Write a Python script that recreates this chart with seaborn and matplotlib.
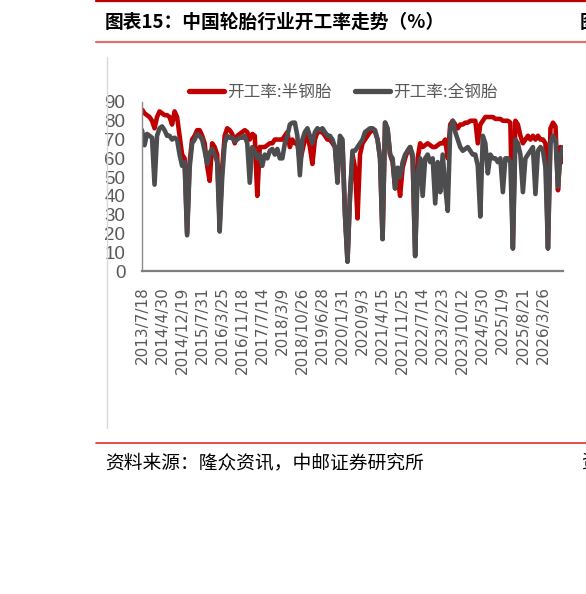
import numpy as np
import pandas as pd
import matplotlib
matplotlib.use("Agg")
import matplotlib.pyplot as plt
import seaborn as sns
from matplotlib.lines import Line2D

# -- data (one point every ~4.5 weeks) ------------------------------------------
tick_labels = [
    "2013/7/18", "2014/4/30", "2014/12/19", "2015/7/31", "2016/3/25",
    "2016/11/18", "2017/7/14", "2018/3/9", "2018/10/26", "2019/6/28",
    "2020/1/31", "2020/9/3", "2021/4/15", "2021/11/25", "2022/7/14",
    "2023/2/23", "2023/10/12", "2024/5/30", "2025/1/9", "2025/8/21",
    "2026/3/26",
]
points_per_label = 8

semi_steel = [
    86, 84, 83, 82, 80, 76, 82, 85,
    84, 83, 83, 82, 78, 85, 82, 72,
    62, 60, 20, 58, 70, 72, 75, 75,
    72, 68, 56, 48, 68, 66, 62, 25,
    55, 72, 76, 75, 73, 68, 72, 73,
    74, 75, 74, 70, 73, 72, 40, 66,
    66, 66, 67, 68, 68, 70, 70, 70,
    70, 72, 74, 66, 70, 68, 68, 58,
    64, 70, 72, 66, 57, 70, 74, 74,
    74, 72, 70, 70, 68, 66, 50, 70,
    68, 30, 5, 40, 62, 55, 28, 62,
    68, 70, 72, 74, 75, 74, 70, 60,
    17, 79, 75, 62, 58, 44, 50, 40,
    55, 60, 64, 66, 60, 8, 60, 68,
    66, 67, 68, 67, 66, 66, 67, 68,
    68, 70, 60, 78, 80, 78, 76, 78,
    78, 79, 79, 80, 80, 80, 68, 78,
    80, 82, 82, 82, 82, 81, 81, 81,
    80, 80, 80, 79, 12, 80, 78, 72,
    68, 70, 72, 70, 72, 70, 72, 70,
    70, 68, 12, 76, 79, 77, 43, 66, 58,
]

all_steel = [
    75, 67, 73, 72, 71, 46, 72, 76,
    77, 75, 72, 72, 70, 71, 70, 62,
    56, 58, 19, 55, 68, 70, 73, 72,
    70, 64, 57, 63, 65, 62, 58, 21,
    50, 68, 72, 71, 71, 69, 70, 71,
    71, 72, 68, 47, 66, 64, 60, 62,
    56, 62, 60, 64, 65, 62, 65, 60,
    60, 68, 72, 78, 79, 79, 72, 51,
    70, 74, 76, 72, 68, 74, 76, 75,
    76, 74, 72, 72, 70, 66, 47, 72,
    70, 30, 5, 40, 64, 64, 66, 68,
    70, 74, 75, 76, 76, 75, 70, 60,
    17, 79, 76, 62, 60, 44, 55, 50,
    58, 62, 64, 66, 62, 8, 52, 60,
    40, 60, 62, 58, 60, 36, 58, 42,
    62, 45, 32, 76, 80, 74, 70, 66,
    64, 65, 66, 64, 62, 62, 56, 29,
    72, 68, 52, 62, 60, 60, 58, 60,
    42, 60, 60, 58, 12, 70, 68, 62,
    42, 60, 62, 64, 66, 41, 64, 66,
    64, 55, 12, 68, 72, 70, 45, 62, 66,
]

# -- colours ---------------------------------------------------------------
C_RED = "#C00000"
C_GREY = "#4D4D4F"
C_TEXT = "#595959"

sns.set_theme(style="white")
plt.rcParams["font.family"] = ["Noto Sans CJK SC", "DejaVu Sans"]

df = pd.DataFrame({
    "idx": np.arange(len(semi_steel)),
    "semi": semi_steel,
    "all": all_steel,
})

fig = plt.figure(figsize=(5.86, 5.94), dpi=100)
ax = fig.add_axes([142 / 586, 1 - 271 / 594, 421 / 586, 169 / 594])

sns.lineplot(data=df, x="idx", y="semi", color=C_RED, linewidth=3.3, ax=ax)
sns.lineplot(data=df, x="idx", y="all", color=C_GREY, linewidth=3.3, ax=ax)

ax.set_xlim(0, len(semi_steel) - 1)
ax.set_ylim(0, 90)
ax.set_xlabel("")
ax.set_ylabel("")

ax.set_xticks(np.arange(len(tick_labels)) * points_per_label)
ax.set_xticklabels(tick_labels, rotation=90, fontsize=11, color=C_TEXT,
                   family="DejaVu Sans", va="top")
ax.set_yticks(np.arange(0, 91, 10))
ax.set_yticklabels([str(v) for v in range(0, 91, 10)], fontsize=13.5, color=C_TEXT,
                   family=["Liberation Sans Narrow", "Liberation Sans"])
ax.tick_params(axis="x", length=0, pad=11)
ax.tick_params(axis="y", length=0, pad=12)

for side in ["top", "right"]:
    ax.spines[side].set_visible(False)
ax.spines["left"].set_color("#8C8C8C")
ax.spines["left"].set_linewidth(1.0)
ax.spines["bottom"].set_color("#7F7F7F")
ax.spines["bottom"].set_linewidth(1.6)

# -- legend ------------------------------------------------------------------
handles = [
    Line2D([], [], color=C_RED, linewidth=3.8),
    Line2D([], [], color=C_GREY, linewidth=3.8),
]
fig.legend(handles, ["开工率:半钢胎", "开工率:全钢胎"], loc="center",
           bbox_to_anchor=(0.586, 1 - 92 / 594), ncol=2, frameon=False,
           fontsize=12, labelcolor=C_TEXT, handlelength=2.1,
           handletextpad=0.2, columnspacing=1.4)

# -- report frame: title, rules, source --------------------------------------
fig.add_artist(Line2D([96 / 586, 1], [1 - 1 / 594] * 2, color="#C00000", linewidth=1.6))
fig.add_artist(Line2D([96 / 586, 1], [1 - 42 / 594] * 2, color="#E07070", linewidth=1.6))
fig.add_artist(Line2D([107 / 586] * 2, [1 - 57 / 594, 1 - 428 / 594],
                      color="#D9D9D9", linewidth=1.0))
fig.add_artist(Line2D([96 / 586, 1], [1 - 443 / 594] * 2, color="#E03030", linewidth=1.2))

fig.text(105 / 586, 1 - 22 / 594, "图表15：中国轮胎行业开工率走势（%）",
         fontsize=13.5, fontweight="bold", color="black", va="center", ha="left")
fig.text(580 / 586, 1 - 22 / 594, "图", fontsize=13.5, fontweight="bold",
         color="black", va="center", ha="left")
fig.text(105 / 586, 1 - 463 / 594, "资料来源：隆众资讯，中邮证券研究所",
         fontsize=13.5, color="black", va="center", ha="left")
fig.text(581 / 586, 1 - 463 / 594, "资", fontsize=13.5,
         color="black", va="center", ha="left")

fig.savefig("out.png", dpi=100)
plt.close(fig)
